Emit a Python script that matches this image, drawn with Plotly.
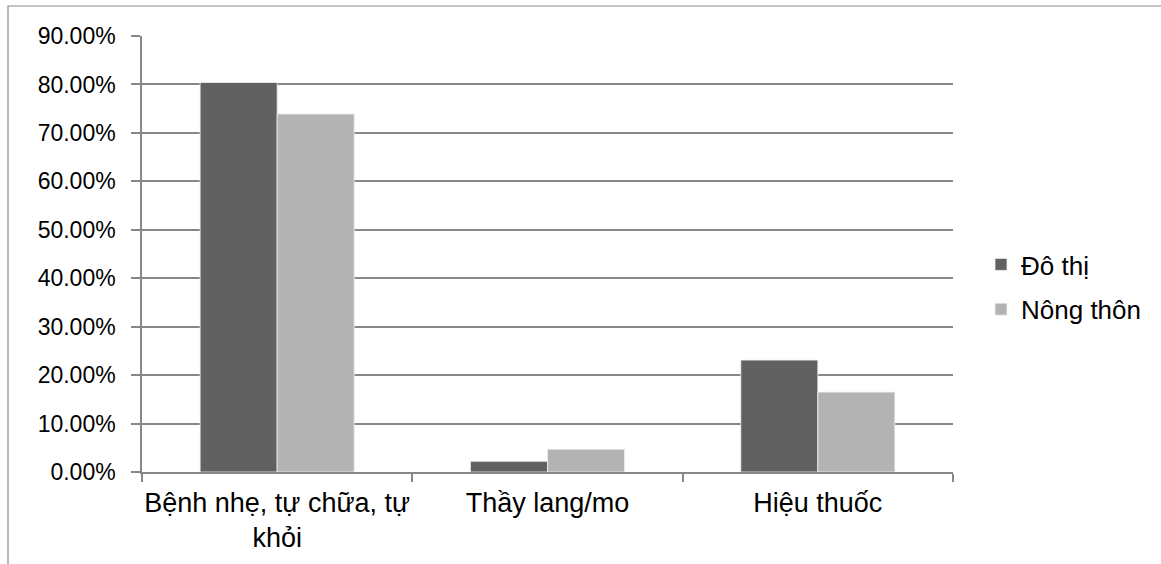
import plotly.graph_objects as go

categories = ["Bệnh nhẹ, tự chữa, tự<br>khỏi", "Thầy lang/mo", "Hiệu thuốc"]
do_thi = [0.804, 0.022, 0.231]
nong_thon = [0.739, 0.047, 0.165]
series_names = ["Đô thị", "Nông thôn"]
y_ticks = [0, 0.1, 0.2, 0.3, 0.4, 0.5, 0.6, 0.7, 0.8, 0.9]

GRID = "#878787"
FONT = "Liberation Sans, Arial, sans-serif"

W, H = 1161, 564
L, R, T, B = 142, 208, 36, 92
pw, ph = W - L - R, H - T - B

fig = go.Figure()
fig.add_trace(go.Bar(
    x=categories, y=do_thi, name=series_names[0], legendgroup="a",
    marker=dict(color="#616161", line=dict(color="#f0f0f0", width=0.8)),
))
fig.add_trace(go.Bar(
    x=categories, y=nong_thon, name=series_names[1], legendgroup="b",
    marker=dict(color="#b3b3b3", line=dict(color="#f0f0f0", width=0.8)),
))

# outer chart frame
fig.add_shape(
    type="rect", xref="paper", yref="paper",
    x0=(8 - L) / pw, x1=2.0, y0=-1.0, y1=(H - B - 6) / ph,
    line=dict(color="#8c8c8c", width=1.2), fillcolor="rgba(0,0,0,0)", layer="below",
)

fig.update_layout(
    width=W, height=H,
    margin=dict(l=L, r=R, t=T, b=B, pad=0, autoexpand=False),
    paper_bgcolor="white", plot_bgcolor="white",
    font=dict(family=FONT, size=23, color="black"),
    barmode="group", bargap=0.43, bargroupgap=0,
    showlegend=True,
    legend=dict(
        x=(981 - L) / pw, xanchor="left",
        y=(H - B - 287) / ph, yanchor="middle",
        font=dict(size=26), traceorder="grouped", tracegroupgap=8,
        bgcolor="rgba(0,0,0,0)",
    ),
    xaxis=dict(
        showline=True, linecolor=GRID, linewidth=1.5,
        ticks="outside", tickson="boundaries", ticklen=8,
        tickcolor=GRID, tickwidth=1.5,
        tickfont=dict(size=27), tickangle=0, automargin=False,
        ticklabelstandoff=6,
        showgrid=False,
    ),
    yaxis=dict(
        range=[0, 0.9], tickvals=y_ticks, tickformat=".2%",
        showline=True, linecolor=GRID, linewidth=1.5,
        showgrid=True, gridcolor=GRID, gridwidth=1.5,
        ticks="outside", ticklen=9, tickcolor=GRID, tickwidth=1.5,
        ticklabelstandoff=11, automargin=False,
        zeroline=False,
        tickfont=dict(size=23),
    ),
)

fig.write_html("out.html")
